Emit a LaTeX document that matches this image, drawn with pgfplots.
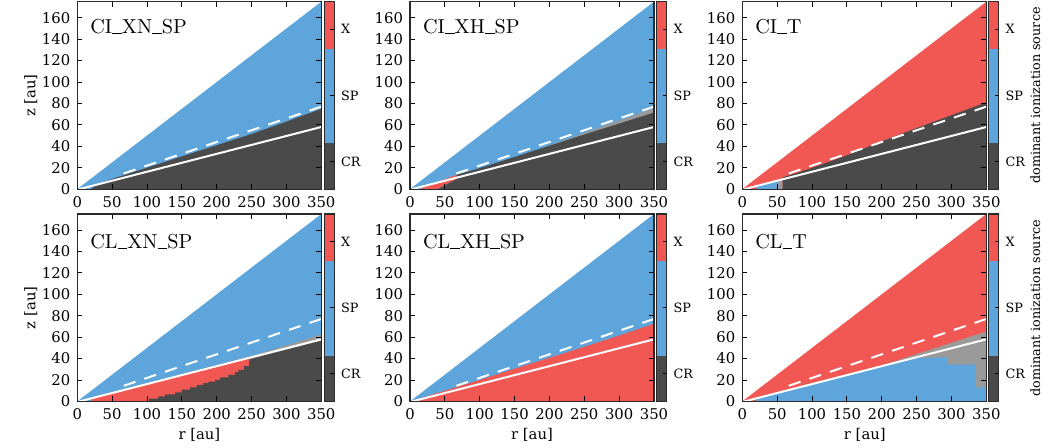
\documentclass[border=0pt]{standalone}
\usepackage{pgfplots}
\pgfplotsset{compat=1.18}
\usepackage{fontspec}
\newfontfamily\dvs{DejaVu Serif}
\definecolor{cX}{HTML}{F15854}
\definecolor{cSP}{HTML}{5DA5DA}
\definecolor{cCR}{HTML}{4A4A4A}
\definecolor{cGR}{HTML}{9A9A9A}
\definecolor{cFrame}{HTML}{2A2A2A}
\newcommand\us{\rule{0.48em}{0.05em}}
\pgfplotsset{
 panel/.style={
  width=122pt, height=93.7pt, scale only axis,
  xmin=0, xmax=350, ymin=0, ymax=175,
  xtick={0,50,...,350}, ytick={0,20,...,160},
  tick align=inside, major tick length=2.5pt,
  tick style={color=black, line width=0.5pt},
  axis line style={line width=0.6pt, color=cFrame},
  tick label style={font=\dvs\fontsize{7.4}{8}\selectfont},
  /pgf/number format/assume math mode=true,
  anchor=north west, axis on top,
 },
 cbar/.style={
  width=4.9pt, height=93.7pt, scale only axis,
  xmin=0, xmax=1, ymin=0, ymax=1,
  xtick=\empty, ytick={0.147,0.5,0.854}, yticklabels={CR,SP,X},
  ytick pos=right, yticklabel pos=right,
  tick align=inside, major tick length=2pt,
  tick style={color=black, line width=0.5pt},
  axis line style={line width=0.6pt, color=cFrame},
  yticklabel style={font=\dvs\fontsize{6.4}{8}\selectfont},
  anchor=north west, axis on top,
 },
}
\tikzset{ttl/.style={anchor=west, inner sep=0pt, font=\fontsize{10.1}{12}\selectfont}}
\newcommand\cbarfill{%
  \addplot[fill=cCR, draw=none] coordinates {(0,0)(1,0)(1,0.245)(0,0.245)};
  \addplot[fill=cSP, draw=none] coordinates {(0,0.245)(1,0.245)(1,0.748)(0,0.748)};
  \addplot[fill=cX, draw=none] coordinates {(0,0.748)(1,0.748)(1,1)(0,1)};}
\newcommand\wlines{%
  \addplot[white, line width=1pt] coordinates {(3,0)(350,58)};
  \addplot[white, line width=1pt, dash pattern=on 6.2pt off 4.7pt] coordinates {(350,77)(62,13.6)};}
\begin{document}
\begin{tikzpicture}
\useasboundingbox (0,0) rectangle (531.5pt,-223.5pt);
% ---------- Row 1 ----------
\begin{axis}[panel, at={(38.65pt,-0.85pt)}]
\addplot[fill=cSP, draw=none] coordinates {(0,0)(350,175)(350,0)};
\addplot[fill=cCR, draw=none] coordinates {(20,0)(25,3.5)(50,9.5)(100,20)(150,30.5)(200,41)(250,51.5)(300,63)(350,75)(350,0)};
\wlines
\node[ttl] at (rel axis cs:0.052,0.866) {CI\us XN\us SP};
\end{axis}
\begin{axis}[cbar, at={(162.15pt,-0.85pt)}]
\cbarfill
\end{axis}
\begin{axis}[panel, at={(205pt,-0.85pt)}]
\addplot[fill=cSP, draw=none] coordinates {(0,0)(350,175)(350,0)};
\addplot[fill=cGR, draw=none] coordinates {(185,37.3)(350,75.5)(350,0)(185,0)};
\addplot[fill=cX, draw=none] coordinates {(14,0)(40,0)(67,9.5)(67,13.5)};
\addplot[fill=cCR, draw=none] coordinates {(40,0)(67,9.5)(67,13.2)(100,19.6)(150,30)(200,40.5)(250,51)(300,61.2)(350,71.5)(350,0)};
\wlines
\node[ttl] at (rel axis cs:0.052,0.866) {CI\us XH\us SP};
\end{axis}
\begin{axis}[cbar, at={(328.35pt,-0.85pt)}]
\cbarfill
\end{axis}
\begin{axis}[panel, at={(371.15pt,-0.85pt)}]
\addplot[fill=cX, draw=none] coordinates {(0,0)(350,175)(350,0)};
\addplot[fill=cSP, draw=none] coordinates {(20,0)(51,0)(51,8.2)(20,2.9)};
\addplot[fill=cGR, draw=none] coordinates {(51,0)(58,0)(58,10)(51,8.7)};
\addplot[fill=cCR, draw=none] coordinates {(58,0)(58,11)(80,15.5)(100,19.8)(150,31.5)(200,44.5)(250,57)(300,69)(350,81)(350,0)};
\wlines
\node[ttl] at (rel axis cs:0.052,0.866) {CI\us T};
\end{axis}
\begin{axis}[cbar, at={(494.35pt,-0.85pt)}]
\cbarfill
\end{axis}
% ---------- Row 2 ----------
\begin{axis}[panel, at={(38.65pt,-107pt)}]
\addplot[fill=cSP, draw=none] coordinates {(0,0)(350,175)(350,0)};
\addplot[fill=cGR, draw=none] coordinates {(231,38.4)(350,62.5)(350,0)(231,0)};
\addplot[fill=cX, draw=none] coordinates {(20,0)(247,0)(247,41.8)(20,3.3)};
\addplot[fill=cCR, draw=none] coordinates {(102.9,0)(102.9,2.5)(116.3,2.5)(116.3,4.7)(125.8,4.7)(125.8,6.5)(140.2,6.5)(140.2,8.4)(149.8,8.4)(149.8,10.9)(161.7,10.9)(161.7,13)(171.3,13)(171.3,15.5)(180.9,15.5)(180.9,17.1)(188,17.1)(188,18.6)(197.6,18.6)(197.6,20.2)(204.8,20.2)(204.8,22.4)(216.7,22.4)(216.7,24.9)(226.3,24.9)(226.3,27.3)(231.1,27.3)(231.1,29.5)(239,29.5)(239,33)(246.4,33)(246.4,36.4)(247,39.4)(350,56.7)(350,0)};
\wlines
\node[ttl] at (rel axis cs:0.052,0.852) {CL\us XN\us SP};
\end{axis}
\begin{axis}[cbar, at={(162.15pt,-107pt)}]
\cbarfill
\end{axis}
\begin{axis}[panel, at={(205pt,-107pt)}]
\addplot[fill=cSP, draw=none] coordinates {(0,0)(350,175)(350,0)};
\addplot[fill=cX, draw=none] coordinates {(0,0)(50,10)(100,20)(150,30.5)(200,40.7)(250,51)(300,61.5)(350,72.5)(350,0)};
\wlines
\node[ttl] at (rel axis cs:0.052,0.852) {CL\us XH\us SP};
\end{axis}
\begin{axis}[cbar, at={(328.35pt,-107pt)}]
\cbarfill
\end{axis}
\begin{axis}[panel, at={(371.15pt,-107pt)}]
\addplot[fill=cX, draw=none] coordinates {(0,0)(350,175)(350,0)};
\addplot[fill=cGR, draw=none] coordinates {(185,30.4)(350,65.3)(350,0)(185,0)};
\addplot[fill=cSP, draw=none] coordinates {(20,0)(350,0)(350,13)(334,13)(334,34.3)(295,34.3)(295,41.3)(258,40.6)(250,41.4)(150,24.8)(20,3.0)};
\wlines
\node[ttl] at (rel axis cs:0.052,0.852) {CL\us T};
\end{axis}
\begin{axis}[cbar, at={(494.35pt,-107pt)}]
\cbarfill
\end{axis}
% ---------- labels ----------
\node[font=\dvs\fontsize{7.4}{9}\selectfont, rotate=90] at (15.4pt,-47.8pt) {z [au]};
\node[font=\dvs\fontsize{7.4}{9}\selectfont, rotate=90] at (15.4pt,-153.9pt) {z [au]};
\node[font=\dvs\fontsize{7.4}{9}\selectfont] at (99.7pt,-217.5pt) {r [au]};
\node[font=\dvs\fontsize{7.4}{9}\selectfont] at (266pt,-217.5pt) {r [au]};
\node[font=\dvs\fontsize{7.4}{9}\selectfont] at (432.4pt,-217.5pt) {r [au]};
\node[font=\dvs\fontsize{6.4}{8}\selectfont, rotate=90] at (517.7pt,-47.75pt) {dominant ionization source};
\node[font=\dvs\fontsize{6.4}{8}\selectfont, rotate=90] at (517.7pt,-154.2pt) {dominant ionization source};
\end{tikzpicture}
\end{document}
